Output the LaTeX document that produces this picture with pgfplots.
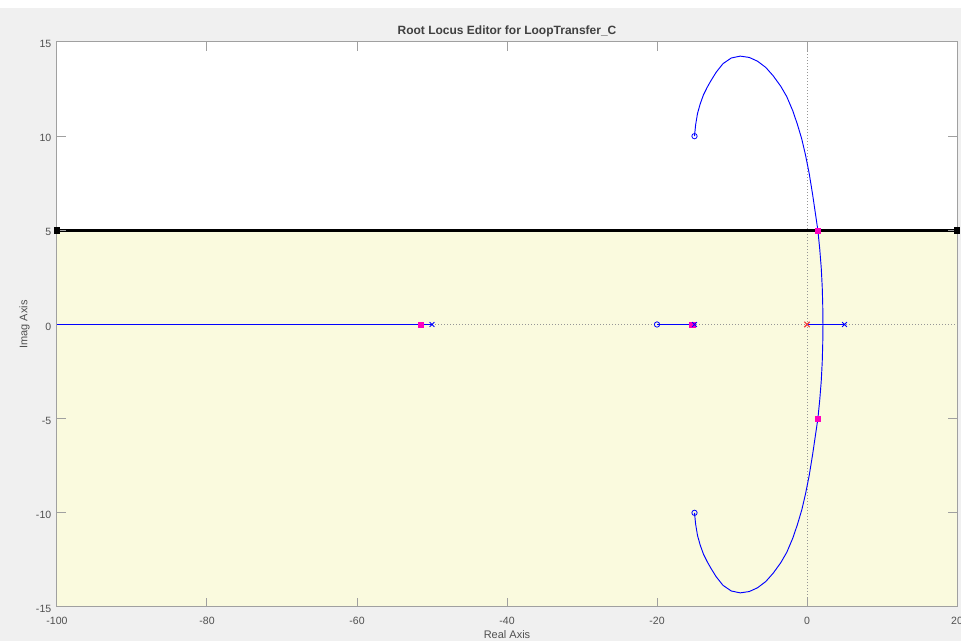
\documentclass[border=0pt]{standalone}
\usepackage{pgfplots}
\pgfplotsset{compat=1.18}
\usepackage{fontspec}
\setmainfont{Liberation Sans}
\definecolor{bgfig}{RGB}{240,240,240}
\definecolor{yell}{RGB}{250,250,222}
\definecolor{framec}{RGB}{160,160,160}
\definecolor{ticklab}{RGB}{80,80,80}
\definecolor{titlec}{RGB}{64,64,64}
\definecolor{locus}{RGB}{0,0,255}
\definecolor{mag}{RGB}{255,0,190}
\definecolor{redx}{RGB}{240,60,60}
\definecolor{dotc}{RGB}{150,150,150}
\begin{document}
\begin{tikzpicture}
\useasboundingbox (-42.75pt,-25.5pt) rectangle (678pt,455.25pt);
\fill[white] (-42.75pt,-25.5pt) rectangle (678pt,455.25pt);
\fill[bgfig] (-42.75pt,-25.5pt) rectangle (678pt,449.25pt);
\begin{axis}[
  at={(0,0)}, anchor=south west,
  scale only axis, width=675pt, height=423.75pt,
  xmin=-100, xmax=20, ymin=-15, ymax=15,
  xtick={-100,-80,-60,-40,-20,0,20},
  ytick={-15,-10,-5,5,10,15},
  extra y ticks={0},
  extra tick style={major tick length=0pt},
  tick align=inside, major tick length=6.75pt,
  axis line style={framec, line width=0.75pt},
  every tick/.style={framec, line width=0.75pt},
  tick label style={font=\fontsize{7.9}{9}\selectfont, text=ticklab},
  /pgf/number format/assume math mode=true,
  xticklabel style={anchor=center, yshift=-10.5pt},
  yticklabel style={anchor=east, xshift=-0.8pt, yshift=-1.5pt},
  axis background/.style={fill=white},
  axis on top,
  clip=false,
  every axis title shift=0pt,
  title={Root Locus Editor for LoopTransfer\_C},
  title style={font=\bfseries\fontsize{9}{11}\selectfont, text=titlec,
    at={(axis description cs:0.5,1.0195)}, anchor=center},
  xlabel={Real Axis},
  xlabel style={font=\fontsize{8.25}{10}\selectfont, text=ticklab,
    at={(axis description cs:0.5,-0.049)}, anchor=center},
  ylabel={Imag Axis},
  ylabel style={font=\fontsize{8.25}{10}\selectfont, text=ticklab,
    at={(axis description cs:-0.0361,0.5)}, anchor=center},
]
% shaded constraint region
\addplot[draw=none, fill=yell] coordinates {(-100,-15) (20,-15) (20,5) (-100,5) (-100,-15)};
% dotted axes lines
\addplot[dotc, line width=0.6pt, dash pattern=on 0.75pt off 1.5pt] coordinates {(-100,0) (20,0)};
\addplot[dotc, line width=0.6pt, dash pattern=on 0.75pt off 1.5pt] coordinates {(0,-15) (0,15)};
% constraint line
\addplot[black, line width=2.2pt, mark=square*, mark size=1.3pt, mark options={solid}] coordinates {(-100,5) (20,5)};
% real-axis loci
\addplot[locus, line width=0.7pt] coordinates {(-100,0) (-50,0)};
\addplot[locus, line width=0.7pt] coordinates {(-20,0) (-15,0)};
\addplot[locus, line width=0.7pt] coordinates {(0,0) (5,0)};
% complex branches
\addplot[locus, line width=0.7pt] coordinates {
(-15.0,10.0) (-14.85,10.6) (-14.6,11.2) (-14.25,11.7) (-13.8,12.2) (-13.3,12.6)
(-12.8,12.95) (-12.1,13.4) (-11.2,13.85) (-10.1,14.15) (-8.9,14.25) (-7.7,14.18)
(-6.6,13.98) (-5.5,13.65) (-4.5,13.2) (-3.5,12.65) (-2.7,12.1) (-1.9,11.35)
(-1.3,10.65) (-0.7,9.85) (-0.2,9.0) (0.3,8.0) (0.75,6.9) (1.1,5.95) (1.45,5.0)
(1.7,4.0) (1.9,3.0) (2.03,2.0) (2.1,1.0) (2.13,0)
(2.1,-1.0) (2.03,-2.0) (1.9,-3.0) (1.7,-4.0) (1.45,-5.0) (1.1,-5.95) (0.75,-6.9)
(0.3,-8.0) (-0.2,-9.0) (-0.7,-9.85) (-1.3,-10.65) (-1.9,-11.35) (-2.7,-12.1)
(-3.5,-12.65) (-4.5,-13.2) (-5.5,-13.65) (-6.6,-13.98) (-7.7,-14.18) (-8.9,-14.25)
(-10.1,-14.15) (-11.2,-13.85) (-12.1,-13.4) (-12.8,-12.95) (-13.3,-12.6) (-13.8,-12.2)
(-14.25,-11.7) (-14.6,-11.2) (-14.85,-10.6) (-15.0,-10.0)};
% closed-loop pole markers
\addplot[only marks, mark=square*, mag, mark size=1.9pt] coordinates {(-51.5,0) (-15.3,0) (1.45,5) (1.45,-5)};
% zeros
\addplot[only marks, mark=o, locus, mark size=2pt, mark options={line width=0.6pt}] coordinates {(-15,10) (-15,-10) (-20,0)};
% open-loop poles
\addplot[only marks, mark=x, locus, mark size=2.6pt, mark options={line width=0.6pt}] coordinates {(-50,0) (-15,0) (5,0)};
\addplot[only marks, mark=x, redx, mark size=2.8pt, mark options={line width=0.8pt}] coordinates {(0,0)};
\end{axis}
\end{tikzpicture}
\end{document}
